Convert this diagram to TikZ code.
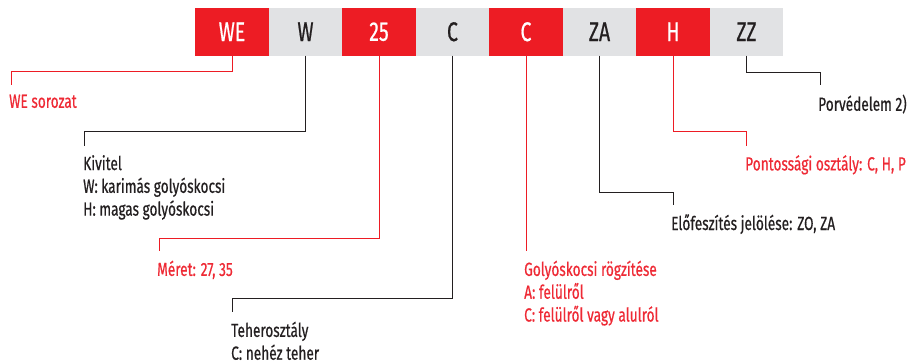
\documentclass[tikz,border=0pt]{standalone}
\usepackage{fontspec}
\setmainfont{Fira Sans}[FakeStretch=0.72,FakeBold=0.6]
\usepackage{tikz}
\usetikzlibrary{calc,positioning}
\usepackage{xcolor}
\definecolor{CodeRed}{HTML}{ED1C24}
\definecolor{CodeGrey}{HTML}{E1E2E4}
\definecolor{Ink}{HTML}{231F20}
\definecolor{LabelRed}{HTML}{EE2A35}

\begin{document}
\begin{tikzpicture}[x=1pt,y=-1pt,
  codebox/.style={minimum width=73.5pt,minimum height=47.5pt,inner sep=0pt,font=\fontsize{27}{27}\selectfont},
  redbox/.style={codebox,fill=CodeRed,text=white},
  greybox/.style={codebox,fill=CodeGrey,text=Ink},
  redline/.style={draw=CodeRed,line width=.8pt},
  inkline/.style={draw=Ink,line width=.8pt},
  entry/.style={anchor=north west,inner sep=0pt,align=left,font=\fontsize{19}{22.8}\selectfont},
  redentry/.style={entry,text=LabelRed},
  inkentry/.style={entry,text=Ink}]
  \useasboundingbox (0,0) rectangle (909,362);
  % code boxes
  \node[redbox] (we) at (232,31.75) {WE};
  \node[greybox] (w) at (305.5,31.75) {W};
  \node[redbox] (size) at (379,31.75) {25};
  \node[greybox] (load) at (452.5,31.75) {C};
  \node[redbox] (mount) at (526,31.75) {C};
  \node[greybox] (za) at (599.5,31.75) {ZA};
  \node[redbox] (acc) at (673,31.75) {H};
  \node[greybox] (zz) at (746.5,31.75) {ZZ};
  % explanations
  \node[redentry] (lwe) at (9,94.5) {WE sorozat};
  \node[inkentry] (lw) at (83,155) {Kivitel\\W: karimás golyóskocsi\\H: magas golyóskocsi};
  \node[redentry] (lsize) at (157,260.5) {Méret: 27, 35};
  \node[inkentry] (lload) at (231,321.5) {Teherosztály\\C: nehéz teher};
  \node[redentry] (lmount) at (524,260.5) {Golyóskocsi rögzítése\\A: felülről\\C: felülről vagy alulról};
  \node[inkentry] (lza) at (671,214) {Előfeszítés jelölése: ZO, ZA};
  \node[redentry] (lacc) at (745,155) {Pontossági osztály: C, H, P};
  \node[inkentry] (lzz) at (818,94.5) {Porvédelem 2)};
  % leaders
  \draw[redline] (we.south) -- ++(0,15.5) -| ([xshift=2pt,yshift=9.5pt]lwe.north west);
  \draw[inkline] (w.south) -- ++(0,75.5) -| ([xshift=1pt,yshift=9.5pt]lw.north west);
  \draw[redline] (size.south) -- ++(0,182.5) -| ([xshift=2pt,yshift=9.5pt]lsize.north west);
  \draw[inkline] (load.south) -- ++(0,242.5) -| ([xshift=1pt,yshift=9.5pt]lload.north west);
  \draw[redline] (mount.south) -- ([yshift=9.5pt]mount.south |- lmount.north);
  \draw[inkline] (za.south) -- ++(0,136.5) -| ([xshift=2pt,yshift=9.5pt]lza.north west);
  \draw[redline] (acc.south) -- ++(0,75.5) -| ([xshift=1pt,yshift=9.5pt]lacc.north west);
  \draw[inkline] (zz.south) -- ++(0,16.5) -| ([xshift=2pt,yshift=9.5pt]lzz.north west);
\end{tikzpicture}
\end{document}
